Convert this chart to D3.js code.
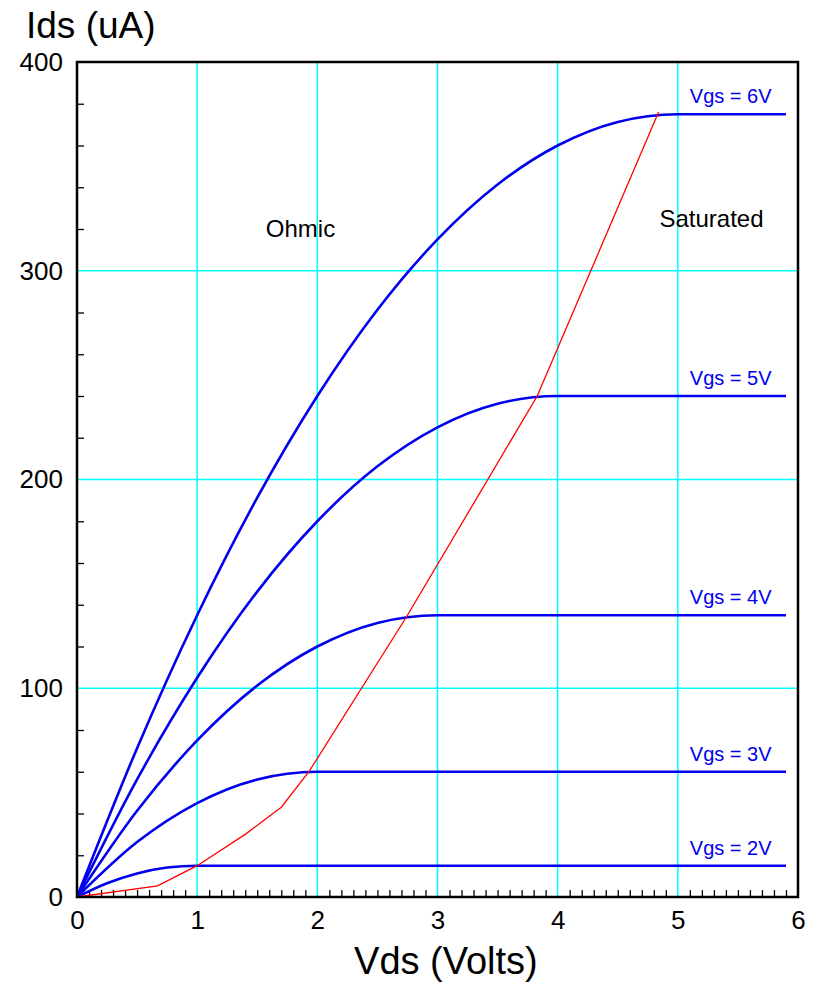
<!DOCTYPE html>
<html>
<head>
<meta charset="utf-8">
<script src="https://cdn.jsdelivr.net/npm/d3@7"></script>
<style>
  body { margin: 0; background: #fff; }
  text { font-family: Helvetica, Arial, "Liberation Sans", sans-serif; }
</style>
</head>
<body>
<svg id="chart" width="823" height="984"></svg>
<script>
// values: Vds in volts, Ids in uA
const vgsLabels = ["Vgs = 2V", "Vgs = 3V", "Vgs = 4V", "Vgs = 5V", "Vgs = 6V"];

const vds2 = [0, 0.25, 0.5, 0.75, 1, 5.9];
const ids2 = [0, 6.6, 11.3, 14.1, 15, 15];

const vds3 = [0, 0.5, 1, 1.5, 2, 5.9];
const ids3 = [0, 26.3, 45, 56.3, 60, 60];

const vds4 = [0, 0.5, 1, 1.5, 2, 2.5, 3, 5.9];
const ids4 = [0, 41.3, 75, 101.3, 120, 131.3, 135, 135];

const vds5 = [0, 0.5, 1, 1.5, 2, 2.5, 3, 3.5, 4, 5.9];
const ids5 = [0, 56.3, 105, 146.3, 180, 206.3, 225, 236.3, 240, 240];

const vds6 = [0, 0.5, 1, 1.5, 2, 2.5, 3, 3.5, 4, 4.5, 5, 5.9];
const ids6 = [0, 71.3, 135, 191.3, 240, 281.3, 315, 341.3, 360, 371.3, 375, 375];

// red boundary between ohmic and saturated regions
const edgeVds = [0, 0.67, 1, 1.4, 1.7, 1.93, 2.74, 3.83, 4.84];
const edgeIds = [0, 5.3, 15, 30, 43, 60, 134, 240, 376];

const xTickLabels = [0, 1, 2, 3, 4, 5, 6];
const yTickLabels = [0, 100, 200, 300, 400];

const svg = d3.select("#chart");

const margin = { top: 62, right: 25, bottom: 87, left: 77 };
const width = 823 - margin.left - margin.right;
const height = 984 - margin.top - margin.bottom;

const g = svg.append("g")
    .attr("transform", `translate(${margin.left}, ${margin.top})`);

const x = d3.scaleLinear().domain([0, 6]).range([0, width]);
const y = d3.scaleLinear().domain([0, 400]).range([height, 0]);

// cyan grid
g.selectAll(".vgrid")
    .data(xTickLabels.slice(1, -1))
    .enter().append("line")
    .attr("x1", d => x(d)).attr("x2", d => x(d))
    .attr("y1", 0).attr("y2", height)
    .attr("stroke", "#00ffff")
    .attr("stroke-width", 1.5);

g.selectAll(".hgrid")
    .data(yTickLabels.slice(1, -1))
    .enter().append("line")
    .attr("x1", 0).attr("x2", width)
    .attr("y1", d => y(d)).attr("y2", d => y(d))
    .attr("stroke", "#00ffff")
    .attr("stroke-width", 1.5);

// minor ticks pointing inward
const xMinor = d3.range(1, 60).filter(i => i % 10 !== 0).map(i => i / 10);
const yMinor = d3.range(20, 400, 20).filter(v => v % 100 !== 0);

const xMinorAxis = g.append("g")
    .attr("transform", `translate(0, ${height})`)
    .call(d3.axisBottom(x).tickValues(xMinor).tickSize(-7).tickFormat(""));
xMinorAxis.select(".domain").remove();
xMinorAxis.selectAll("line").attr("stroke", "#000").attr("stroke-width", 1.3);

const yMinorAxis = g.append("g")
    .call(d3.axisLeft(y).tickValues(yMinor).tickSize(-7).tickFormat(""));
yMinorAxis.select(".domain").remove();
yMinorAxis.selectAll("line").attr("stroke", "#000").attr("stroke-width", 1.3);

// tick labels
const xAxis = g.append("g")
    .attr("transform", `translate(0, ${height})`)
    .call(d3.axisBottom(x).tickValues(xTickLabels).tickSize(0).tickPadding(14).tickFormat(d3.format("d")));
xAxis.select(".domain").remove();
xAxis.selectAll("text")
    .attr("font-size", "26px")
    .attr("font-family", "Helvetica, Arial, 'Liberation Sans', sans-serif")
    .attr("fill", "#000");

const yAxis = g.append("g")
    .call(d3.axisLeft(y).tickValues(yTickLabels).tickSize(0).tickPadding(14).tickFormat(d3.format("d")));
yAxis.select(".domain").remove();
yAxis.selectAll("text")
    .attr("font-size", "26px")
    .attr("font-family", "Helvetica, Arial, 'Liberation Sans', sans-serif")
    .attr("fill", "#000");

// curves
const curves = [
    { vds: vds2, ids: ids2 },
    { vds: vds3, ids: ids3 },
    { vds: vds4, ids: ids4 },
    { vds: vds5, ids: ids5 },
    { vds: vds6, ids: ids6 }
];

const line = d3.line()
    .x(d => x(d[0]))
    .y(d => y(d[1]))
    .curve(d3.curveMonotoneX);

curves.forEach((c, i) => {
    const pts = c.vds.map((v, j) => [v, c.ids[j]]);
    g.append("path")
        .attr("d", line(pts))
        .attr("fill", "none")
        .attr("stroke", "#0000ee")
        .attr("stroke-width", 2.6);

    g.append("text")
        .attr("x", x(5.78))
        .attr("y", y(c.ids[c.ids.length - 1]) - 11)
        .attr("text-anchor", "end")
        .attr("font-size", "20px")
        .attr("fill", "#0000ee")
        .text(vgsLabels[i]);
});

// boundary
g.append("path")
    .attr("d", d3.line().x(d => x(d[0])).y(d => y(d[1]))(edgeVds.map((v, j) => [v, edgeIds[j]])))
    .attr("fill", "none")
    .attr("stroke", "#ff0000")
    .attr("stroke-width", 1.3);

// region labels
g.append("text")
    .attr("x", x(1.86))
    .attr("y", y(316))
    .attr("text-anchor", "middle")
    .attr("font-size", "24px")
    .text("Ohmic");

g.append("text")
    .attr("x", x(5.28))
    .attr("y", y(321))
    .attr("text-anchor", "middle")
    .attr("font-size", "24px")
    .text("Saturated");

// frame
g.append("rect")
    .attr("x", 0).attr("y", 0)
    .attr("width", width).attr("height", height)
    .attr("fill", "none")
    .attr("stroke", "#000")
    .attr("stroke-width", 2.5);

// axis titles
svg.append("text")
    .attr("x", 26)
    .attr("y", 38)
    .attr("font-size", "37px")
    .text("Ids (uA)");

svg.append("text")
    .attr("x", margin.left + x(3.07))
    .attr("y", 974)
    .attr("text-anchor", "middle")
    .attr("font-size", "38px")
    .text("Vds (Volts)");
</script>
</body>
</html>
